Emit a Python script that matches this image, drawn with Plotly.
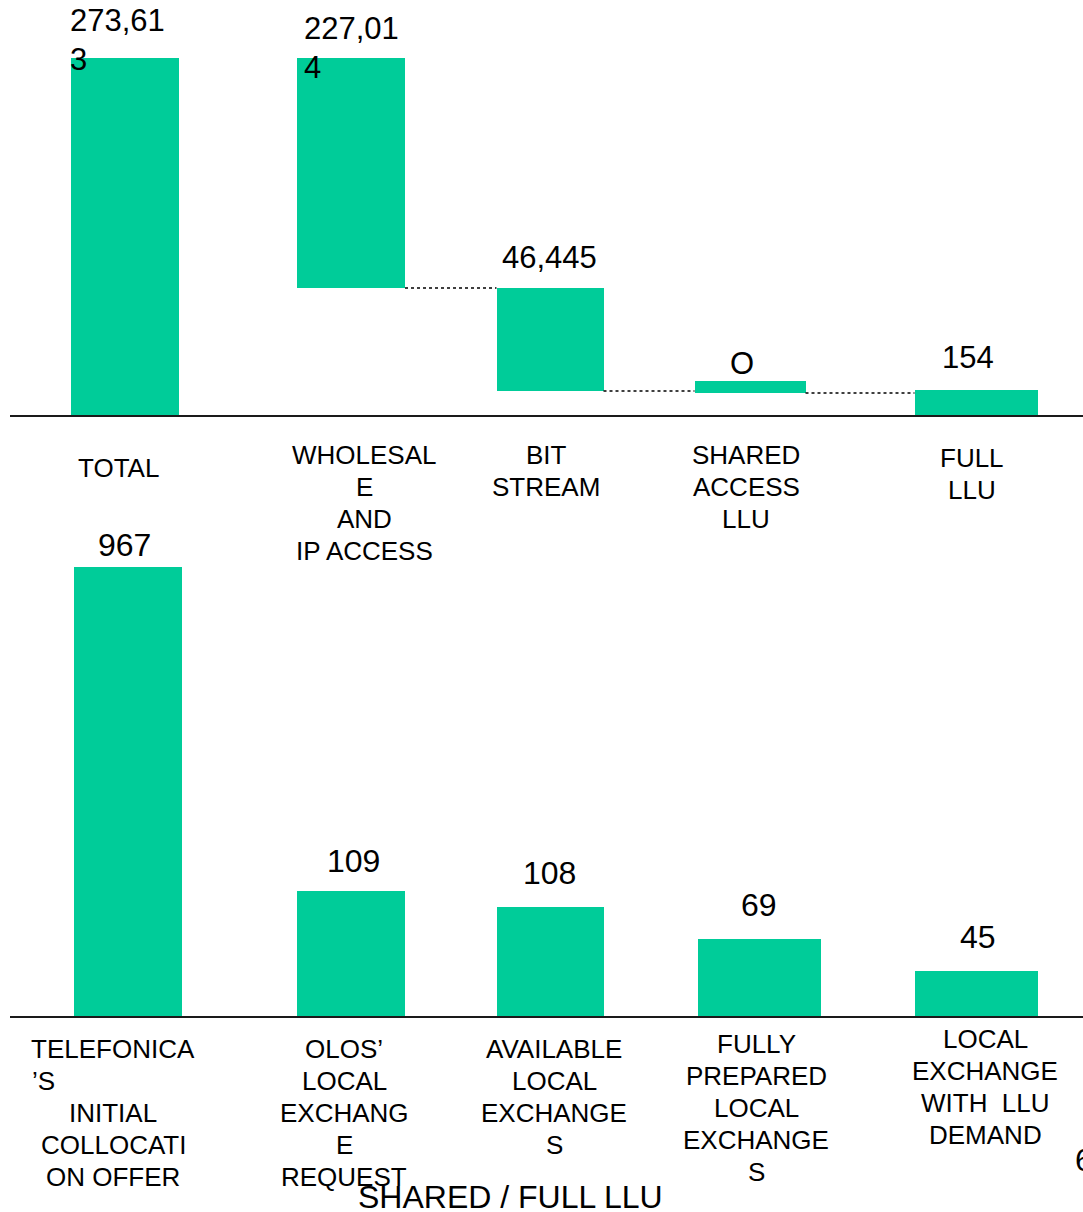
import plotly.graph_objects as go

OFF = 0
W, H = 1083, 1212
GREEN = "#00CC99"
FONT = "Arial, Liberation Sans, sans-serif"

# ---------------- data ----------------
top_tick_labels = ["TOTAL", "WHOLESAL<br>E<br>AND<br>IP ACCESS", "BIT<br>STREAM",
                   "SHARED<br>ACCESS<br>LLU", "FULL<br>LLU"]
top_values = [273613, 227014, 46445, 0, 154]
top_value_text = ["273,61<br>3", "227,01<br>4", "46,445", "O", "154"]
# drawn bar extents (chart units, baseline = 0)
top_bar_low = [0, 127, 24, 22, 0]
top_bar_high = [357, 357, 127, 34, 25]

bottom_tick_labels = [
    "TELEFONICA<br>’S<br>INITIAL<br>COLLOCATI<br>ON OFFER",
    "OLOS’<br>LOCAL<br>EXCHANG<br>E<br>REQUEST",
    "AVAILABLE<br>LOCAL<br>EXCHANGE<br>S",
    "FULLY<br>PREPARED<br>LOCAL<br>EXCHANGE<br>S",
    "LOCAL<br>EXCHANGE<br>WITH&nbsp; LLU<br>DEMAND",
]
bottom_values = [967, 109, 108, 69, 45]
bottom_value_text = ["967", "109", "108", "69", "45"]
bottom_bar_heights = [449, 125, 109, 77, 45]

footer_text = "SHARED / FULL LLU"
page_text = "6"

# ---------------- layout positions (reference pixels) ----------------
top_x = [125, 351, 550, 750, 976]
top_w = [108, 108, 107, 111, 123]
bot_x = [128, 351, 550, 759, 976]
bot_w = [108, 108, 107, 123, 123]

top_val_pos = [(68, 40, "left"), (302, 48, "left"), (549, 258, "center"),
               (742, 363, "center"), (968, 357, "center")]
bot_val_pos = [(124, 545), (353, 861), (549, 873), (759, 905), (978, 937)]
top_lab_pos = [(118, 468), (364, 503), (546, 471), (746, 487), (972, 474)]
bot_lab_pos = [(113, 1113), (344, 1113), (554, 1097), (756, 1108), (985, 1087)]
LAB_SPACING = 32
VAL_SPACING = 39


def py(p):
    return 1 - (p - OFF) / H


fig = go.Figure()

fig.add_trace(go.Bar(
    x=top_x, y=[h - l for h, l in zip(top_bar_high, top_bar_low)], base=top_bar_low,
    width=top_w, marker=dict(color=GREEN, line=dict(width=0)),
    customdata=top_values, xaxis="x", yaxis="y", showlegend=False, hoverinfo="skip"))

# dotted connectors between consecutive floating bars
cx, cy = [], []
for i in range(1, 4):
    cx += [top_x[i] + top_w[i] / 2, top_x[i + 1] - top_w[i + 1] / 2, None]
    lvl = top_bar_low[i]
    cy += [lvl, lvl, None]
fig.add_trace(go.Scatter(x=cx, y=cy, mode="lines", line=dict(color="black", width=1.6, dash="dot"),
                         xaxis="x", yaxis="y", showlegend=False, hoverinfo="skip"))

fig.add_trace(go.Bar(
    x=bot_x, y=bottom_bar_heights, width=bot_w, marker=dict(color=GREEN, line=dict(width=0)),
    customdata=bottom_values, xaxis="x2", yaxis="y2", showlegend=False, hoverinfo="skip"))

ann = []


def add_block(x, yc, text, size, spacing, anchor="center", left_lines=(), left_x=None):
    lines = text.split("<br>")
    n = len(lines)
    for k, ln in enumerate(lines):
        y = yc + (k - (n - 1) / 2) * spacing
        if k in left_lines:
            xx, xa = left_x, "left"
        else:
            xx, xa = x, anchor
        ann.append(dict(x=xx, y=py(y), xref="x", yref="paper", text=ln, showarrow=False,
                        xanchor=xa, yanchor="middle",
                        font=dict(size=size, color="black", family=FONT)))


for (x, y, al), t in zip(top_val_pos, top_value_text):
    add_block(x, y, t, 31, VAL_SPACING, anchor=al)
for (x, y), t in zip(bot_val_pos, bottom_value_text):
    add_block(x, y, t, 32, VAL_SPACING)
for (x, y), t in zip(top_lab_pos, top_tick_labels):
    add_block(x, y, t, 26, LAB_SPACING)
for i, ((x, y), t) in enumerate(zip(bot_lab_pos, bottom_tick_labels)):
    if i == 0:
        add_block(x, y, t, 26, LAB_SPACING, left_lines=(1,), left_x=30)
    else:
        add_block(x, y, t, 26, LAB_SPACING)
add_block(510, 1197, footer_text, 32, VAL_SPACING)
add_block(1073, 1160, page_text, 32, VAL_SPACING, anchor="left")

xcommon = dict(domain=[(10 - OFF) / W, 1], range=[10, 1083], showline=True, linecolor="#1a1a1a",
               linewidth=2, showticklabels=False, showgrid=False, zeroline=False, ticks="",
               fixedrange=True)
fig.update_layout(
    width=W, height=H, margin=dict(l=0, r=0, t=0, b=0),
    paper_bgcolor="white", plot_bgcolor="white",
    xaxis=dict(anchor="y", **xcommon),
    xaxis2=dict(anchor="y2", **xcommon),
    yaxis=dict(domain=[py(415), 1], range=[0, 415 - OFF], visible=False, fixedrange=True),
    yaxis2=dict(domain=[py(1016), py(540)], range=[0, 476], visible=False, fixedrange=True),
    annotations=ann, bargap=0,
)

fig.write_html("out.html", config={"displayModeBar": False},
               post_script="document.body.style.margin='0px';document.body.style.overflow='hidden';")
